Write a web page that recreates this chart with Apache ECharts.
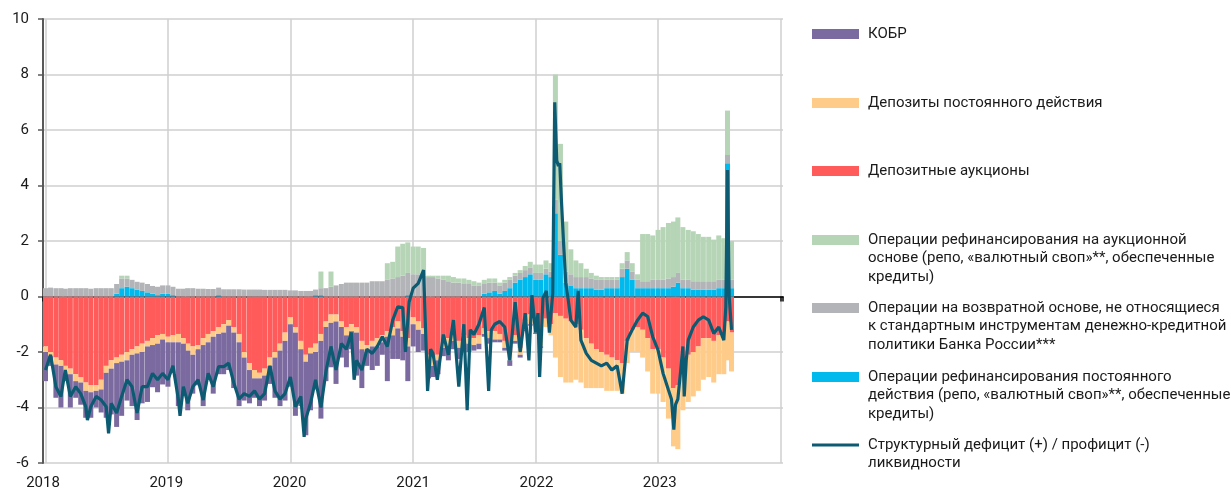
<!DOCTYPE html>
<html>
<head>
<meta charset="utf-8">
<script src="https://cdn.jsdelivr.net/npm/echarts@6/dist/echarts.min.js"></script>
<style>
  html, body { margin: 0; padding: 0; background: #fff; }
  #main { width: 1231px; height: 494px; }
</style>
</head>
<body>
<div id="main"></div>
<script>
// bar sampling: 1st and 16th of every month, last two points around the July 2023 spike
var barDates = [];
for (var y = 2018; y <= 2023; y++) {
  for (var m = 1; m <= 12; m++) {
    if (y === 2023 && m > 7) break;
    var mm = (m < 10 ? '0' : '') + m;
    barDates.push(y + '-' + mm + '-01');
    barDates.push(y + '-' + mm + '-16');
  }
}
barDates.push('2023-07-27', '2023-08-08');

// negative side (absorption), trillion rub
var depAuction = [
  -1.8,-2.0,-2.2,-2.3,-2.5,-2.6,-2.8,-2.9,-3.1,-3.2,-3.2,-3.0,-2.5,-2.3,-2.2,-2.1,-2.0,-1.9,-1.8,-1.7,-1.6,-1.5,-1.4,-1.35,
  -1.45,-1.4,-1.35,-1.5,-1.7,-1.8,-1.75,-1.5,-1.35,-1.25,-1.1,-1.0,-0.85,-1.1,-1.35,-2.0,-2.4,-2.65,-2.75,-2.6,-2.2,-2.0,-1.7,-1.3,
  -0.75,-1.1,-1.6,-2.1,-1.85,-1.7,-1.35,-0.9,-0.65,-0.65,-0.9,-1.1,-1.0,-1.1,-1.6,-1.75,-1.6,-1.5,-1.4,-1.25,-1.1,-0.9,-1.25,-1.5,
  -0.75,-0.9,-1.15,-2.1,-2.2,-2.1,-1.6,-1.5,-1.4,-1.6,-1.4,-1.5,-1.5,-1.4,-1.15,-1.25,-1.25,-1.35,-1.6,-2.0,-1.4,-1.85,-0.9,-0.65,
  -1.0,-1.4,-0.8,-1.0,-0.6,-0.7,-0.8,-0.9,-1.0,-1.2,-1.5,-1.7,-1.9,-2.0,-2.1,-2.2,-2.3,-2.4,-1.6,-1.2,-1.1,-1.2,-1.5,-1.9,
  -1.9,-2.2,-2.6,-3.3,-3.2,-2.3,-2.1,-2.0,-1.8,-1.5,-1.5,-1.6,-1.4,-1.5,-0.9,-1.3
];
var depStanding = [
  -0.2,-0.15,-0.25,-0.2,-0.3,-0.2,-0.25,-0.2,-0.3,-0.25,-0.2,-0.35,-0.25,-0.3,-0.2,-0.25,-0.3,-0.2,-0.25,-0.3,-0.2,-0.25,-0.3,-0.2,
  -0.2,-0.25,-0.3,-0.2,-0.25,-0.3,-0.15,-0.25,-0.3,-0.2,-0.25,-0.3,-0.2,-0.2,-0.3,-0.2,-0.25,-0.3,-0.2,-0.25,-0.3,-0.2,-0.25,-0.3,
  -0.25,-0.2,-0.3,-0.25,-0.2,-0.3,-0.25,-0.2,-0.3,-0.25,-0.2,-0.3,-0.25,-0.2,-0.3,-0.25,-0.2,-0.3,-0.25,-0.2,-0.3,-0.25,-0.2,-0.3,
  -0.25,-0.3,-0.2,-0.25,-0.3,-0.2,-0.25,-0.3,-0.2,-0.25,-0.3,-0.2,-0.25,-0.3,-0.2,-0.25,-0.3,-0.2,-0.25,-0.3,-0.2,-0.25,-0.3,-0.35,
  -0.3,-0.4,-0.3,-0.4,-1.6,-2.2,-2.3,-2.2,-2.0,-1.9,-1.8,-1.6,-1.4,-1.3,-1.3,-1.2,-1.1,-1.1,-0.8,-0.8,-0.9,-1.0,-1.2,-1.6,
  -1.6,-1.6,-1.8,-2.1,-2.3,-1.8,-1.7,-1.6,-1.6,-1.5,-1.4,-1.5,-1.4,-1.3,-1.4,-1.4
];
var kobr = [
  -1.05,-0.35,-1.2,-1.5,-0.25,-1.2,-0.6,-0.8,-0.97,-0.92,-0.6,-0.83,-1.62,-1.65,-2.3,-1.95,-1.45,-1.85,-2.4,-1.85,-2.0,-1.52,-1.75,-1.62,
  -1.6,-1.1,-2.3,-1.8,-2.15,-1.4,-1.3,-2.2,-1.35,-2.05,-1.45,-1.5,-1.6,-2.0,-2.3,-1.55,-1.2,-0.7,-1.0,-0.9,-0.65,-1.45,-2.0,-2.15,
  -2.25,-3.0,-2.05,-2.65,-2.05,-1.35,-2.8,-1.95,-1.6,-2.25,-1.1,-1.15,-0.65,-1.55,-1.4,-0.5,-0.85,-0.7,-0.45,-1.6,-0.85,-1.1,-0.85,-1.25,
  -0.8,-0.8,-0.6,-0.6,-0.4,-0.5,-0.3,-0.5,-0.3,-0.4,-0.2,-0.3,-0.2,-0.2,-0.1,-0.2,-0.1,-0.1,-0.1,-0.2,-0.1,-0.1,-0.05,-0.05,
  -0.05,-0.05,0,0,0,0,0,0,0,0,0,0,0,0,0,0,0,0,0,0,0,0,0,0,
  0,0,0,0,0,0,0,0,0,0,0,0,0,0,0,0
];

// positive side (provision)
var refinStanding = [
  0,0,0,0,0,0,0,0,0,0,0,0,0,0,0.1,0.3,0.35,0.3,0.25,0.2,0.15,0.1,0.05,0.1,
  0.1,0.05,0,0,0,0,0,0,0,0,0.05,0,0,0,0,0,0,0,0,0,0,0,0,0,
  0,0,0,0,0,0.05,0.05,0,0,0,0,0,0,0,0,0,0,0,0,0,0,0,0,0.05,
  0,0,0,0,0,0,0,0,0,0,0,0,0,0,0.1,0.15,0.2,0.1,0.2,0.3,0.5,0.6,0.7,0.8,
  0.6,0.6,0.8,0.7,3.0,1.5,0.5,0.4,0.3,0.3,0.3,0.3,0.25,0.25,0.3,0.3,0.3,0.7,1.0,0.6,0.3,0.3,0.3,0.3,
  0.3,0.3,0.3,0.35,0.5,0.3,0.3,0.25,0.25,0.25,0.25,0.25,0.3,0.3,4.8,0.3
];
var nonStandard = [
  0.3,0.32,0.3,0.3,0.28,0.3,0.3,0.3,0.3,0.28,0.3,0.3,0.3,0.3,0.35,0.35,0.3,0.3,0.28,0.3,0.3,0.28,0.3,0.3,
  0.3,0.3,0.28,0.28,0.3,0.3,0.28,0.28,0.27,0.27,0.27,0.26,0.26,0.26,0.26,0.25,0.25,0.25,0.25,0.24,0.24,0.24,0.24,0.24,
  0.22,0.22,0.2,0.2,0.2,0.2,0.25,0.3,0.35,0.4,0.45,0.5,0.5,0.5,0.5,0.5,0.55,0.55,0.55,0.6,0.65,0.7,0.75,0.8,
  0.8,0.8,0.75,0.7,0.7,0.65,0.6,0.55,0.5,0.5,0.45,0.45,0.4,0.4,0.35,0.35,0.3,0.3,0.3,0.3,0.25,0.25,0.25,0.25,
  0.25,0.25,0.2,0.2,0.5,0.5,0.4,0.4,0.4,0.4,0.4,0.35,0.35,0.35,0.3,0.3,0.3,0.3,0.3,0.3,0.3,0.25,0.25,0.3,
  0.3,0.3,0.35,0.35,0.35,0.3,0.3,0.3,0.3,0.3,0.3,0.3,0.3,0.3,0.3,0.3
];
var refinAuction = [
  0,0,0,0,0,0,0,0,0,0,0,0,0,0,0,0.1,0.1,0,0,0,0,0,0,0,
  0,0,0,0,0,0,0,0,0,0,0,0,0,0,0,0,0,0,0,0,0,0,0,0,
  0,0,0,0,0,0,0.6,0,0.55,0,0,0,0,0,0,0,0,0,0,0.6,0.6,1.1,1.15,1.1,
  1.0,1.0,1.0,0.05,0.05,0.1,0.15,0.2,0.2,0.15,0.2,0.15,0.15,0.1,0.15,0.15,0.15,0.1,0.1,0.1,0.1,0.1,0.15,0.2,
  0.3,0.3,0.3,0.3,4.5,3.5,1.8,0.9,0.6,0.5,0.3,0.2,0.15,0.1,0.1,0.1,0.1,0.2,0.3,0.3,0.2,1.7,1.7,1.6,
  1.8,1.9,2.0,2.0,2.0,1.9,1.8,1.8,1.7,1.6,1.6,1.5,1.6,1.5,1.6,1.4
];

// structural liquidity deficit (+) / surplus (-)
var lineDates = [
  '2018-01-01','2018-01-16','2018-02-01','2018-02-16','2018-03-01','2018-03-16','2018-04-01','2018-04-16','2018-05-01','2018-05-06','2018-05-16','2018-06-01','2018-06-16','2018-07-01','2018-07-08','2018-07-16','2018-08-01','2018-08-16','2018-09-01','2018-09-16','2018-10-01','2018-10-16','2018-11-01','2018-11-16','2018-12-01','2018-12-16',
  '2019-01-01','2019-01-16','2019-02-01','2019-02-06','2019-02-16','2019-03-01','2019-03-16','2019-04-01','2019-04-16','2019-05-01','2019-05-16','2019-06-01','2019-06-16','2019-07-01','2019-07-16','2019-08-01','2019-08-16','2019-09-01','2019-09-16','2019-10-01','2019-10-16','2019-11-01','2019-11-16','2019-12-01','2019-12-16',
  '2020-01-01','2020-01-16','2020-02-01','2020-02-11','2020-02-16','2020-03-01','2020-03-16','2020-04-01','2020-04-16','2020-05-01','2020-05-16','2020-06-01','2020-06-16','2020-07-01','2020-07-09','2020-07-16','2020-08-01','2020-08-16','2020-09-01','2020-09-16','2020-10-01','2020-10-16','2020-11-01','2020-11-16','2020-12-01','2020-12-09','2020-12-20',
  '2021-01-01','2021-01-16','2021-02-01','2021-02-13','2021-02-22','2021-03-01','2021-03-14','2021-04-01','2021-04-16','2021-05-01','2021-05-17','2021-06-01','2021-06-11','2021-06-20','2021-07-01','2021-07-16','2021-08-01','2021-08-14','2021-08-22','2021-09-01','2021-09-16','2021-10-01','2021-10-16','2021-11-01','2021-11-16','2021-12-01','2021-12-12','2021-12-21',
  '2022-01-01','2022-01-08','2022-01-13','2022-01-23','2022-02-02','2022-02-11','2022-02-21','2022-02-27','2022-03-05','2022-03-10','2022-03-14','2022-03-18','2022-03-25','2022-04-01','2022-04-08','2022-04-16','2022-05-01','2022-05-08','2022-05-16','2022-06-01','2022-06-16','2022-07-01','2022-07-16','2022-08-01','2022-08-16','2022-09-01','2022-09-16','2022-10-01','2022-10-16','2022-11-01','2022-11-16','2022-12-01','2022-12-16',
  '2023-01-01','2023-01-16','2023-02-01','2023-02-10','2023-02-17','2023-02-22','2023-03-01','2023-03-10','2023-03-16','2023-03-20','2023-03-26','2023-04-01','2023-04-16','2023-05-01','2023-05-16','2023-06-01','2023-06-16','2023-07-01','2023-07-16','2023-07-22','2023-07-27','2023-08-01','2023-08-08'
];
var lineValues = [
  -2.65,-2.1,-3.25,-3.6,-2.65,-3.6,-3.25,-3.5,-3.97,-4.45,-3.97,-3.6,-3.73,-3.97,-4.93,-3.85,-4.2,-3.6,-3.0,-3.25,-4.2,-3.25,-3.25,-2.77,-3.0,-2.77,
  -3.0,-2.5,-3.7,-4.3,-3.25,-3.85,-3.25,-3.0,-3.73,-2.77,-3.25,-2.53,-2.53,-2.4,-3.1,-3.7,-3.5,-3.6,-3.4,-3.7,-3.5,-2.5,-3.4,-3.7,-3.5,
  -2.9,-3.97,-3.6,-5.06,-4.4,-3.85,-3.0,-4.0,-2.7,-1.8,-2.65,-1.7,-1.9,-1.3,-3.0,-2.3,-2.65,-1.9,-2.05,-1.8,-1.45,-1.8,-0.85,-0.37,-0.4,-2.0,-0.2,
  0.3,0.47,0.95,-3.4,-1.9,-2.05,-3.0,-1.37,-2.1,-0.85,-3.25,-1.0,-4.1,-1.2,-1.37,-1.0,-0.4,-3.4,-1.2,-1.0,-0.9,-1.1,-2.3,-0.2,-2.0,-0.6,-2.3,0.05,
  -1.3,-0.6,-2.9,-0.05,0.2,-1.3,0.1,7.0,4.9,4.7,4.8,3.7,2.0,0.47,-0.1,-0.85,-1.1,0.2,-1.57,-2.05,-2.3,-2.4,-2.5,-2.4,-2.65,-2.5,-3.5,-1.57,-1.2,-0.85,-0.6,-0.72,-1.45,
  -1.93,-2.77,-3.37,-3.7,-4.8,-3.9,-3.7,-2.6,-1.8,-3.6,-2.3,-1.57,-1.1,-0.85,-0.73,-0.85,-1.33,-1.1,-1.57,-0.37,4.56,0.0,-1.2
];

var names = {
  kobr: 'КОБР',
  depStanding: 'Депозиты постоянного действия',
  depAuction: 'Депозитные аукционы',
  refinAuction: 'Операции рефинансирования на аукционной\nоснове (репо, «валютный своп»**, обеспеченные\nкредиты)',
  nonStandard: 'Операции на возвратной основе, не относящиеся\nк стандартным инструментам денежно-кредитной\nполитики Банка России***',
  refinStanding: 'Операции рефинансирования постоянного\nдействия (репо, «валютный своп»**, обеспеченные\nкредиты)',
  line: 'Структурный дефицит (+) / профицит (-)\nликвидности'
};

var FONT = 'Roboto';
var YEAR = 365 * 24 * 3600 * 1000;
var xMin = new Date(2018, 0, 1).getTime();
var xMax = new Date(2024, 0, 1).getTime();

function barSeries(key, values, color) {
  return {
    name: names[key],
    type: 'bar',
    stack: 'total',
    barWidth: 5,
    itemStyle: { color: color },
    data: barDates.map(function (d, i) { return [d, values[i]]; })
  };
}

// one legend per item; empty lines in front keep the first text line level with the icon
function legendItem(key, iconY, iconH) {
  var lines = names[key].split('\n').length;
  var lh = 18.5;
  var lead = new Array(lines).join('\n');
  return {
    orient: 'vertical',
    left: 812,
    top: iconY - (2 * lines - 1) * lh / 2,
    padding: 0,
    selectedMode: false,
    icon: 'rect',
    itemWidth: 47,
    itemHeight: iconH,
    data: [names[key]],
    formatter: function (n) { return lead + n; },
    textStyle: {
      fontFamily: FONT, fontSize: 15, color: '#1a1a1a', lineHeight: lh,
      padding: [0, 0, 0, 4]
    }
  };
}

var chart = echarts.init(document.getElementById('main'));
chart.setOption({
  animation: false,
  grid: { left: 43, right: 448, top: 19, bottom: 31 },
  legend: [
    legendItem('kobr', 34, 10),
    legendItem('depStanding', 103, 10),
    legendItem('depAuction', 171, 10),
    legendItem('refinAuction', 240, 10),
    legendItem('nonStandard', 308, 10),
    legendItem('refinStanding', 377, 10),
    legendItem('line', 445, 3)
  ],
  xAxis: [
    {
      type: 'time', min: xMin, max: xMax,
      minInterval: YEAR, maxInterval: YEAR + 86400000,
      axisLine: { onZero: true, lineStyle: { color: '#000', width: 1.5 } },
      axisTick: { show: true, length: 5, lineStyle: { color: '#000', width: 1.5 } },
      axisLabel: { show: false },
      splitLine: { show: true, showMinLine: false, showMaxLine: false, lineStyle: { color: '#cfcfcf', width: 1.5 } }
    },
    {
      type: 'time', min: xMin, max: xMax, position: 'bottom',
      minInterval: YEAR, maxInterval: YEAR + 86400000,
      axisLine: { show: false, onZero: false },
      axisTick: { show: false },
      splitLine: { show: false },
      axisLabel: {
        margin: 13, fontFamily: FONT, fontSize: 15, color: '#1a1a1a',
        showMinLabel: true, showMaxLabel: false,
        formatter: function (v) { return String(new Date(v).getFullYear()); }
      }
    }
  ],
  yAxis: {
    type: 'value', min: -6, max: 10, interval: 2,
    axisLine: { show: true, onZero: false, lineStyle: { color: '#595959', width: 2 } },
    axisTick: { show: true, length: 5, lineStyle: { color: '#595959', width: 1.5 } },
    axisLabel: { fontFamily: FONT, fontSize: 15, color: '#1a1a1a', margin: 14 },
    splitLine: { lineStyle: { color: '#cfcfcf', width: 1.5 } }
  },
  series: [
    barSeries('depAuction', depAuction, '#ff5b5b'),
    barSeries('depStanding', depStanding, '#ffcb88'),
    barSeries('kobr', kobr, '#7b6a9f'),
    barSeries('refinStanding', refinStanding, '#00baed'),
    barSeries('nonStandard', nonStandard, '#b3b4b7'),
    barSeries('refinAuction', refinAuction, '#b6d4b6'),
    {
      name: names.line,
      type: 'line',
      symbol: 'none',
      showSymbol: false,
      z: 5,
      lineStyle: { color: '#0d5b73', width: 3.2 },
      itemStyle: { color: '#0d5b73' },
      data: lineDates.map(function (d, i) { return [d, lineValues[i]]; })
    }
  ]
});
</script>
</body>
</html>
